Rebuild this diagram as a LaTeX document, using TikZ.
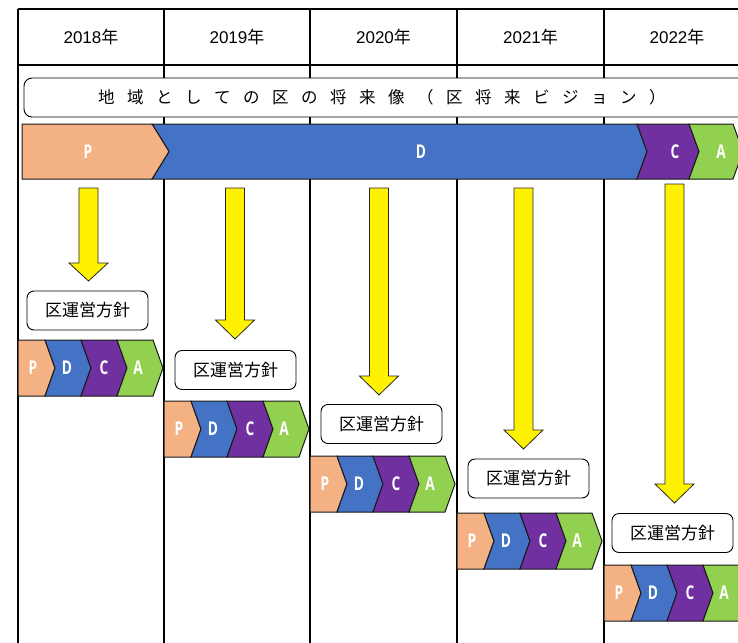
\documentclass[tikz,border=0pt]{standalone}
\usepackage{fontspec}
\usepackage{graphicx}
\setmainfont{Liberation Sans}
\newfontfamily\jp{Noto Sans CJK JP}
\newfontfamily\pdcafont{Open Sans}

\definecolor{pcol}{HTML}{F4B183}
\definecolor{dcol}{HTML}{4472C4}
\definecolor{ccol}{HTML}{7030A0}
\definecolor{acol}{HTML}{92D050}

\tikzset{
  gridline/.style={black, line width=1.4pt},
  chev/.style={draw=black!90, line width=1pt},
  letter/.style={text=white, inner sep=0pt, font=\pdcafont\bfseries\fontsize{19}{19}\selectfont},
  policy/.style={draw, rounded corners=7pt, fill=white, line width=0.9pt,
    minimum width=121pt, minimum height=39pt, inner sep=0pt,
    font=\jp\fontsize{17}{17}\selectfont},
  yarrow/.style={fill=yellow, draw=black!85, line width=0.8pt},
  year/.style={font=\fontsize{17}{17}\selectfont}
}

\begin{document}
\begin{tikzpicture}[x=1pt,y=-1pt]
  \useasboundingbox (0,0) rectangle (738,642);
  \clip (0,0) rectangle (738,642);

  % table
  \draw[gridline] (18,9) -- (770,9);
  \draw[gridline] (18,65) -- (770,65);
  \foreach \x in {18,164,310,457,604}
    \draw[gridline] (\x,9) -- (\x,660);

  \node[year] (y2018) at (91,37)    {2018{\jp 年}};
  \node[year] (y2019) at (237,37)   {2019{\jp 年}};
  \node[year] (y2020) at (383.5,37) {2020{\jp 年}};
  \node[year] (y2021) at (530.5,37) {2021{\jp 年}};
  \node[year] (y2022) at (677,37)   {2022{\jp 年}};

  % vision
  \draw[fill=white, rounded corners=8pt, line width=0.9pt] (24,78) rectangle (790,117);
  \node[anchor=west, inner sep=0pt, font=\jp\fontsize{16.5}{16.5}\selectfont] (vision) at (98,97.5)
    {\def\g{\hspace{12.5pt}}地\g 域\g と\g し\g て\g の\g 区\g の\g 将\g 来\g 像\g （\g 区\g 将\g 来\g ビ\g ジ\g ョ\g ン\g ）};

  % long PDCA bar
  \filldraw[chev, fill=dcol] (152,124) -- (637,124) -- (647,151.5) -- (637,179) -- (152,179) -- (169,151.5) -- cycle;
  \filldraw[chev, fill=pcol] (22,124) -- (152,124) -- (169,151.5) -- (152,179) -- (22,179) -- cycle;
  \filldraw[chev, fill=ccol] (637,124) -- (689,124) -- (699,151.5) -- (689,179) -- (637,179) -- (647,151.5) -- cycle;
  \filldraw[chev, fill=acol] (689,124) -- (733,124) -- (743,151.5) -- (733,179) -- (689,179) -- (699,151.5) -- cycle;
  \node[letter] (barP) at (88,151.5)  {\scalebox{.72}[1]{P}};
  \node[letter] (barD) at (421,151.5) {\scalebox{.72}[1]{D}};
  \node[letter] (barC) at (675,151.5) {\scalebox{.72}[1]{C}};
  \node[letter] (barA) at (721,151.5) {\scalebox{.72}[1]{A}};

  % yellow arrows
  \foreach \cx/\ya/\yb/\yc in {88.5/188/263/281, 235/188/320/339, 379/188/376/395,
                               523.5/188/430/449, 674.5/184/484/503}
    \filldraw[yarrow] (\cx-9.5,\ya) -- (\cx+9.5,\ya) -- (\cx+9.5,\yb) -- (\cx+19.5,\yb)
      -- (\cx,\yc) -- (\cx-19.5,\yb) -- (\cx-9.5,\yb) -- cycle;

  % policy boxes
  \node[policy] (pol1) at (87.5,310.5) {区運営方針};
  \node[policy] (pol2) at (235.5,370)  {区運営方針};
  \node[policy] (pol3) at (381.5,424)  {区運営方針};
  \node[policy] (pol4) at (528.5,478.5) {区運営方針};
  \node[policy] (pol5) at (672.5,533)  {区運営方針};

  % yearly PDCA rows
  \foreach \x/\y [count=\i] in {18/340, 164/401, 310/456, 457/513, 604/565} {
    \filldraw[chev, fill=pcol] (\x,\y) -- (\x+27,\y) -- (\x+37,\y+28) -- (\x+27,\y+56) -- (\x,\y+56) -- cycle;
    \filldraw[chev, fill=dcol] (\x+27,\y) -- (\x+63,\y) -- (\x+73,\y+28) -- (\x+63,\y+56) -- (\x+27,\y+56) -- (\x+37,\y+28) -- cycle;
    \filldraw[chev, fill=ccol] (\x+63,\y) -- (\x+99,\y) -- (\x+109,\y+28) -- (\x+99,\y+56) -- (\x+63,\y+56) -- (\x+73,\y+28) -- cycle;
    \filldraw[chev, fill=acol] (\x+99,\y) -- (\x+135,\y) -- (\x+145,\y+28) -- (\x+135,\y+56) -- (\x+99,\y+56) -- (\x+109,\y+28) -- cycle;
    \node[letter] (p\i) at (\x+15,\y+28)  {\scalebox{.72}[1]{P}};
    \node[letter] (d\i) at (\x+49,\y+28)  {\scalebox{.72}[1]{D}};
    \node[letter] (c\i) at (\x+86,\y+28)  {\scalebox{.72}[1]{C}};
    \node[letter] (a\i) at (\x+120,\y+28) {\scalebox{.72}[1]{A}};
  }
\end{tikzpicture}
\end{document}
